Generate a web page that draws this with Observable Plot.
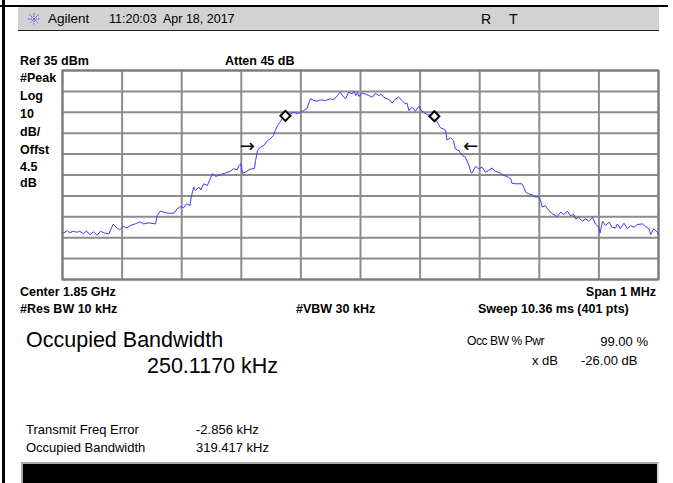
<!DOCTYPE html>
<html><head><meta charset="utf-8">
<script src="https://cdn.jsdelivr.net/npm/d3@7"></script>
<script src="https://cdn.jsdelivr.net/npm/@observablehq/plot@0.6"></script>
<style>
body{margin:0;background:#fff;}
#page{position:relative;width:673px;height:483px;overflow:hidden;font-family:"Liberation Sans",Arial,sans-serif;color:#000;background:#fff;}
#page svg.plot{position:absolute;left:0;top:0;}
.t{position:absolute;white-space:nowrap;line-height:1;}
.b{font-weight:bold;font-size:12.5px;}
.n{font-size:13px;}
.big{font-size:21.5px;}
</style></head>
<body><div id="page"></div>
<script>
// Trace: frequency offset from centre (kHz) and level (dBm)
const freqKHz = [-500,-498,-492,-488,-482,-476,-471,-465,-460,-454,-448,-442,-436,-430,-422,-415,-409,-404,-398,-392,-385,-378,-370,-364,-355,-344,-341,-336,-329,-322,-313,-308,-302,-297,-292,-286,-284,-280,-277,-271,-268,-263,-257,-252,-249,-243,-235,-227,-218,-213,-207,-204,-201,-198,-193,-187,-182,-178,-176,-173,-168,-162,-156,-151,-146,-143,-139,-134,-130,-123,-117,-112,-106,-101,-95,-90,-84,-78,-73,-67,-59,-50,-45,-39,-34,-28,-25,-20,-14,-11,-8,-5,-3,3,8,14,20,25,31,34,39,45,50,53,59,64,70,75,78,81,87,92,98,101,106,112,117,123,129,134,139,143,145,151,156,159,165,171,176,182,185,187,193,198,204,210,215,221,226,235,240,246,252,254,260,266,271,274,277,282,288,294,299,302,305,310,316,322,330,336,341,347,352,358,361,366,372,378,383,389,394,400,402,406,411,417,422,428,431,436,442,448,453,459,464,473,478,484,487,492,498,500];
const levelDbm = [-42.6,-42.8,-41.6,-42.7,-41.9,-42.4,-41.9,-43.1,-41.7,-43.6,-42.2,-43.8,-41.9,-42.8,-43.1,-38.5,-40.3,-41.2,-39.6,-40.3,-39.0,-38.4,-37.4,-38.4,-37.9,-38.4,-34.4,-32.3,-32.9,-33.3,-33.3,-31.2,-30.1,-30.7,-28.8,-29.6,-25.6,-20.8,-22.4,-20.8,-22.1,-19.2,-20.0,-16.8,-14.4,-15.7,-14.8,-14.1,-13.2,-12.0,-12.5,-10.5,-9.6,-14.1,-13.6,-12.5,-12.0,-12.0,-8.1,-3.3,-1.7,-0.9,1.5,2.3,3.9,6.3,8.7,10.7,12.7,13.5,14.3,15.0,14.3,15.0,15.9,16.7,21.5,20.6,20.3,21.0,20.6,21.5,21.0,23.0,24.6,22.2,21.5,24.6,23.8,25.1,23.0,24.6,22.6,24.1,23.8,23.0,22.2,24.1,23.0,23.8,22.2,21.5,20.6,19.4,21.5,22.2,20.6,19.1,19.4,15.9,17.4,15.5,17.8,16.2,15.0,13.9,13.5,12.7,10.3,7.6,7.1,6.3,1.8,2.8,1.5,-2.5,-3.3,-5.7,-6.5,-10.5,-13.7,-14.1,-10.9,-12.0,-11.3,-13.7,-12.8,-11.6,-13.2,-14.1,-15.2,-15.7,-16.8,-18.9,-19.2,-19.2,-19.2,-20.8,-23.2,-24.0,-24.5,-25.6,-25.3,-27.2,-30.4,-29.6,-32.0,-33.6,-34.9,-32.8,-33.9,-32.3,-34.4,-33.9,-36.0,-35.2,-37.1,-36.0,-37.1,-35.2,-38.4,-40.0,-42.8,-37.1,-39.2,-37.6,-40.0,-40.3,-38.4,-40.7,-38.1,-40.7,-39.2,-40.0,-38.7,-38.4,-39.6,-40.7,-43.5,-40.7,-42.4,-43.1];

// Occupied-bandwidth markers (diamonds) and -26 dB arrows
const markerKHz = [-126, 124];
const markerDbm = [13.3, 13.1];
const arrowKHz = [-190, 185];
const arrowDbm = [-1.4, -1.4];
const arrowText = ["→", "←"];

// Graticule: 10 divisions each way
const xGridKHz = [-500,-400,-300,-200,-100,0,100,200,300,400,500];
const yGridDbm = [35,25,15,5,-5,-15,-25,-35,-45,-55,-65];

const trace = freqKHz.map((f, i) => ({f, db: levelDbm[i]}));
const markers = markerKHz.map((f, i) => ({f, db: markerDbm[i]}));
const arrows = arrowKHz.map((f, i) => ({f, db: arrowDbm[i], s: arrowText[i]}));

const chart = Plot.plot({
  width: 673, height: 483,
  marginLeft: 62, marginRight: 15, marginTop: 70, marginBottom: 204,
  x: {domain: [-500, 500], axis: null},
  y: {domain: [-65, 35], axis: null},
  style: {background: "transparent", overflow: "visible"},
  marks: [
    Plot.ruleX(xGridKHz, {stroke: "#8c8c8c", strokeWidth: 2, strokeOpacity: 1}),
    Plot.ruleY(yGridDbm, {stroke: "#8c8c8c", strokeWidth: 2, strokeOpacity: 1}),
    Plot.frame({stroke: "#7a7a7a", strokeWidth: 2}),
    Plot.line(trace, {x: "f", y: "db", stroke: "#3b3bff", strokeWidth: 1}),
    Plot.dot(markers, {x: "f", y: "db", symbol: "diamond2", r: 4.5, stroke: "#000", strokeWidth: 2, fill: "#fff"}),
    Plot.text(arrows, {x: "f", y: "db", text: "s", fontSize: 18, fill: "#000", fontFamily: "DejaVu Sans"})
  ]
});
const page = document.getElementById("page");
page.appendChild(chart);

function add(txt, cls, left, top, extra) {
  const d = document.createElement("div");
  d.className = "t " + cls;
  d.textContent = txt;
  d.style.left = left + "px";
  d.style.top = top + "px";
  if (extra) Object.assign(d.style, extra);
  page.appendChild(d);
  return d;
}
function box(left, top, w, h, style) {
  const d = document.createElement("div");
  d.style.position = "absolute";
  d.style.left = left + "px"; d.style.top = top + "px";
  d.style.width = w + "px"; d.style.height = h + "px";
  Object.assign(d.style, style);
  page.appendChild(d);
}
// frame lines of the screen capture
box(0, 5, 668, 2, {background: "#000"});
box(2, 0, 3, 483, {background: "#000"});
// header bar
box(18, 7, 641, 23, {background: "#d2d2d2", borderBottom: "1px solid #222"});
const star = document.createElementNS("http://www.w3.org/2000/svg", "svg");
star.setAttribute("width", 14); star.setAttribute("height", 14);
star.style.position = "absolute"; star.style.left = "27px"; star.style.top = "12px";
star.innerHTML = '<g stroke="#4a4aff" stroke-width="1" stroke-dasharray="1.5 1"><line x1="7" y1="1" x2="7" y2="13"/><line x1="1" y1="7" x2="13" y2="7"/><line x1="2.5" y1="2.5" x2="11.5" y2="11.5"/><line x1="11.5" y1="2.5" x2="2.5" y2="11.5"/></g>';
page.appendChild(star);
add("Agilent", "", 48, 12, {fontSize: "13.5px"});
add("11:20:03  Apr 18, 2017", "", 109, 13, {fontSize: "12.5px", whiteSpace: "pre"});
add("R", "", 481, 12, {fontSize: "14px"});
add("T", "", 509, 12, {fontSize: "14px"});

// instrument settings
add("Ref 35 dBm", "b", 20, 55);
add("Atten 45 dB", "b", 225, 55);
const side = ["#Peak", "Log", "10", "dB/", "Offst", "4.5", "dB"];
const sideY = [72, 90, 108, 126, 144, 161, 177];
side.forEach((s, i) => add(s, "b", 20, sideY[i]));
add("Center 1.85 GHz", "b", 20, 286);
add("#Res BW 10 kHz", "b", 20, 303);
add("#VBW 30 kHz", "b", 296, 303);
add("Span 1 MHz", "b", 0, 286, {left: "auto", right: "17px"});
add("Sweep 10.36 ms (401 pts)", "b", 478, 303);

// measurement results
add("Occupied Bandwidth", "big", 26, 330);
add("250.1170 kHz", "big", 147, 356);
add("Occ BW % Pwr", "n", 467, 335, {fontSize: "12px", letterSpacing: "-0.4px"});
add("99.00 %", "n", 0, 335, {left: "auto", right: "25px", whiteSpace: "pre"});
add("x dB", "n", 532, 354);
add("-26.00 dB", "n", 581, 354);
add("Transmit Freq Error", "n", 26, 423);
add("-2.856 kHz", "n", 196, 423);
add("Occupied Bandwidth", "n", 26, 441);
add("319.417 kHz", "n", 196, 441);
// bottom message bar
box(21, 462, 634, 21, {background: "#000", borderTop: "2px solid #a8a8a8", borderLeft: "2px solid #a8a8a8", borderRight: "2px solid #dcdcdc"});
</script>
</body></html>
